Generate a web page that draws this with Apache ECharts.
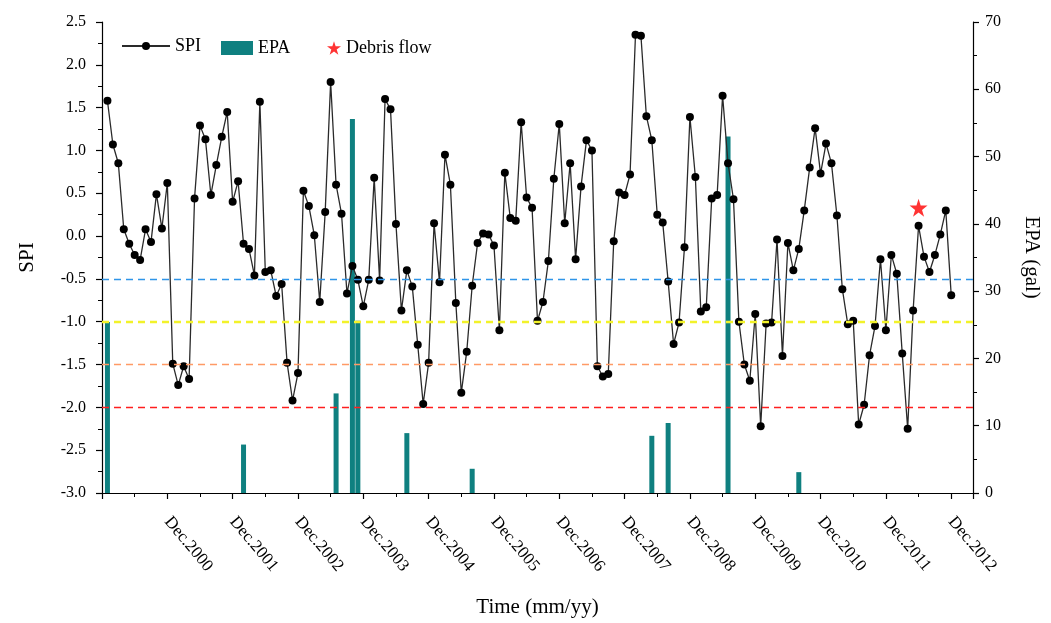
<!DOCTYPE html>
<html>
<head>
<meta charset="utf-8">
<title>SPI / EPA</title>
<script src="https://cdn.jsdelivr.net/npm/echarts@6/dist/echarts.min.js"></script>
<style>
  html, body { margin: 0; padding: 0; background: #fff; }
  #chart { width: 1051px; height: 623px; }
</style>
</head>
<body>
<div id="chart"></div>
<script>
// monthly SPI, Jan 2000 - Dec 2012 (one row per year)
const spiValues = [
  1.58, 1.07, 0.85, 0.08, -0.09, -0.22, -0.28, 0.08, -0.07, 0.49, 0.09, 0.62,
  -1.49, -1.74, -1.52, -1.67, 0.44, 1.29, 1.13, 0.48, 0.83, 1.16, 1.45, 0.40,
  0.64, -0.09, -0.15, -0.46, 1.57, -0.42, -0.40, -0.70, -0.56, -1.48, -1.92, -1.60,
  0.53, 0.35, 0.01, -0.77, 0.28, 1.80, 0.60, 0.26, -0.67, -0.35, -0.51, -0.82,
  -0.51, 0.68, -0.52, 1.60, 1.48, 0.14, -0.87, -0.40, -0.59, -1.27, -1.96, -1.48,
  0.15, -0.54, 0.95, 0.60, -0.78, -1.83, -1.35, -0.58, -0.08, 0.03, 0.02, -0.11,
  -1.10, 0.74, 0.21, 0.18, 1.33, 0.45, 0.33, -0.99, -0.77, -0.29, 0.67, 1.31,
  0.15, 0.85, -0.27, 0.58, 1.12, 1.00, -1.52, -1.64, -1.61, -0.06, 0.51, 0.48,
  0.72, 2.35, 2.34, 1.40, 1.12, 0.25, 0.16, -0.53, -1.26, -1.01, -0.13, 1.39,
  0.69, -0.88, -0.83, 0.44, 0.48, 1.64, 0.85, 0.43, -1.00, -1.50, -1.69, -0.91,
  -2.22, -1.02, -1.01, -0.04, -1.40, -0.08, -0.40, -0.15, 0.30, 0.80, 1.26, 0.73,
  1.08, 0.85, 0.24, -0.62, -1.03, -0.99, -2.20, -1.97, -1.39, -1.05, -0.27, -1.10,
  -0.22, -0.44, -1.37, -2.25, -0.87, 0.12, -0.24, -0.42, -0.22, 0.02, 0.30, -0.69
]

// EPA events: month number (1 = Jan 2000) and value in gal
const epaMonths = [1, 26, 43, 46, 47, 56, 68, 101, 104, 115, 128]
const epaValues = [25.4, 7.2, 14.8, 55.6, 25.6, 8.9, 3.6, 8.5, 10.4, 53.0, 3.1]

// debris flow event
const debrisMonth = [150]
const debrisSpi = [0.33]

// SPI drought thresholds
const thresholds = [-0.5, -1.0, -1.5, -2.0]
const thresholdColors = ['#2f95e8', '#f2f22a', '#ff9a66', '#ff1f1f']

const startYear = 1999
const font = 'Liberation Serif'
const star = 'path://M12,0 L14.8,8.6 L24,8.6 L16.6,14 L19.4,22.8 L12,17.4 L4.6,22.8 L7.4,14 L0,8.6 L9.2,8.6 Z'

const chart = echarts.init(document.getElementById('chart'))

const spiData = spiValues.map((v, i) => [i + 1, v])
const epaData = epaMonths.map((m, i) => [m, epaValues[i]])
const debrisData = debrisMonth.map((m, i) => [m, debrisSpi[i]])

const axisCommon = {
  axisLine: { show: true, onZero: false, lineStyle: { color: '#000', width: 1.2 } },
  axisTick: { show: true, inside: false, length: 6, lineStyle: { color: '#000', width: 1.2 } },
  minorTick: { show: true, splitNumber: 2, length: 4, lineStyle: { color: '#000', width: 1 } },
  splitLine: { show: false },
  axisLabel: { color: '#000', fontFamily: font, fontSize: 16 }
}

const option = {
  animation: false,
  backgroundColor: '#fff',
  grid: { left: 102, right: 78, top: 22, bottom: 128 },
  legend: [
    {
      data: ['SPI'], left: 116, top: 32, itemWidth: 48, itemHeight: 10,
      textStyle: { fontFamily: font, fontSize: 18, color: '#000' }
    },
    {
      data: [{ name: 'EPA', icon: 'rect' }], left: 216, top: 34, itemWidth: 32, itemHeight: 14,
      textStyle: { fontFamily: font, fontSize: 18, color: '#000' }
    },
    {
      data: [{ name: 'Debris flow', icon: star }], left: 322, top: 34, itemWidth: 14, itemHeight: 14,
      textStyle: { fontFamily: font, fontSize: 18, color: '#000' }
    }
  ],
  xAxis: {
    type: 'value',
    min: 0,
    max: 160,
    interval: 12,
    name: 'Time (mm/yy)',
    nameLocation: 'middle',
    nameGap: 104,
    nameTextStyle: { fontFamily: font, fontSize: 21, color: '#000' },
    ...axisCommon,
    axisLabel: {
      ...axisCommon.axisLabel,
      fontSize: 17,
      rotate: -50,
      margin: 26,
      formatter: v => (v > 0 && v % 12 === 0) ? 'Dec.' + (startYear + v / 12) : ''
    }
  },
  yAxis: [
    {
      type: 'value',
      min: -3,
      max: 2.5,
      interval: 0.5,
      name: 'SPI',
      nameLocation: 'middle',
      nameGap: 64,
      nameTextStyle: { fontFamily: font, fontSize: 21, color: '#000' },
      ...axisCommon,
      axisLabel: { ...axisCommon.axisLabel, margin: 16, formatter: v => v.toFixed(1) }
    },
    {
      type: 'value',
      min: 0,
      max: 70,
      interval: 10,
      name: 'EPA (gal)',
      nameLocation: 'middle',
      nameGap: 48,
      nameRotate: -90,
      nameTextStyle: { fontFamily: font, fontSize: 21, color: '#000' },
      ...axisCommon,
      axisLabel: { ...axisCommon.axisLabel, margin: 12 }
    }
  ],
  series: [
    {
      name: 'EPA',
      type: 'bar',
      yAxisIndex: 1,
      barWidth: 5,
      itemStyle: { color: '#0f8080' },
      data: epaData,
      z: 1
    },
    {
      name: 'SPI',
      type: 'line',
      yAxisIndex: 0,
      symbol: 'circle',
      symbolSize: 8,
      showAllSymbol: true,
      lineStyle: { color: '#2a2a2a', width: 1.3 },
      itemStyle: { color: '#000' },
      data: spiData,
      z: 3,
      markLine: {
        silent: true,
        symbol: 'none',
        label: { show: false },
        data: thresholds.map((t, i) => ({
          yAxis: t,
          lineStyle: { color: thresholdColors[i], type: [7, 5], width: i === 1 ? 2.4 : 1.4, opacity: 1 }
        }))
      }
    },
    {
      name: 'Debris flow',
      type: 'scatter',
      yAxisIndex: 0,
      symbol: star,
      symbolSize: 18,
      itemStyle: { color: '#ff0000' },
      data: debrisData,
      z: 4
    }
  ]
}

chart.setOption(option)
window.addEventListener('resize', () => chart.resize())
</script>
</body>
</html>
